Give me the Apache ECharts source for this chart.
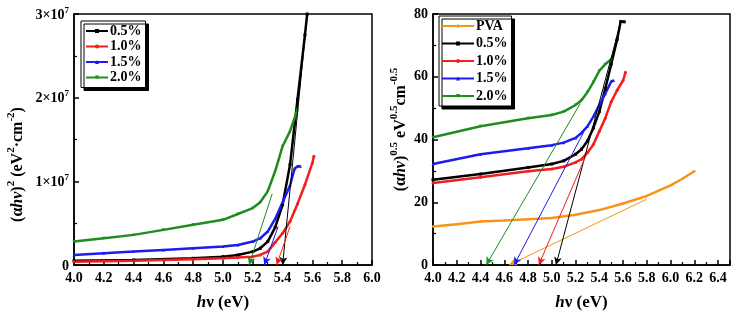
<!DOCTYPE html>
<html>
<head>
<meta charset="utf-8">
<script src="https://cdn.jsdelivr.net/npm/echarts@6/dist/echarts.min.js"></script>
<style>
  html, body { margin: 0; padding: 0; background: #fff; }
  #main { width: 738px; height: 316px; }
</style>
</head>
<body>
<div id="main"></div>
<script>
// ---- left panel: (ahv)^2, values in units of 1e7 ----
const xL05 = [4.0, 4.4, 4.8, 5.0, 5.1, 5.2, 5.25, 5.3, 5.35, 5.4, 5.45, 5.5, 5.55, 5.565]
const yL05 = [0.05, 0.06, 0.08, 0.10, 0.12, 0.16, 0.20, 0.28, 0.45, 0.72, 1.20, 1.98, 2.75, 3.0]
const xL10 = [4.0, 4.4, 4.8, 5.0, 5.1, 5.2, 5.25, 5.3, 5.35, 5.4, 5.45, 5.5, 5.55, 5.6, 5.61]
const yL10 = [0.04, 0.05, 0.07, 0.08, 0.09, 0.10, 0.12, 0.16, 0.27, 0.38, 0.52, 0.73, 0.96, 1.22, 1.30]
const xL15 = [4.0, 4.2, 4.4, 4.6, 4.8, 5.0, 5.1, 5.2, 5.25, 5.3, 5.35, 5.4, 5.45, 5.48, 5.5, 5.52]
const yL15 = [0.12, 0.14, 0.16, 0.18, 0.20, 0.22, 0.24, 0.28, 0.32, 0.40, 0.55, 0.75, 0.95, 1.15, 1.18, 1.18]
const xL20 = [4.0, 4.2, 4.4, 4.6, 4.8, 5.0, 5.1, 5.2, 5.25, 5.3, 5.35, 5.4, 5.45, 5.5]
const yL20 = [0.28, 0.32, 0.36, 0.42, 0.48, 0.54, 0.61, 0.68, 0.75, 0.88, 1.12, 1.42, 1.60, 1.86]
// tangent lines [x0, y0, x1, y1]
const tanL05 = [5.40, 0, 5.56, 2.9]
const tanL10 = [5.36, 0, 5.45, 0.46]
const tanL15 = [5.277, 0, 5.37, 0.46]
const tanL20 = [5.175, 0, 5.33, 0.85]

// ---- right panel: (ahv)^0.5 ----
const xRpva = [4.0, 4.2, 4.4, 4.6, 4.8, 5.0, 5.2, 5.4, 5.6, 5.8, 6.0, 6.1, 6.2]
const yRpva = [12.3, 13.0, 13.9, 14.2, 14.6, 15.0, 16.0, 17.5, 19.6, 22.0, 25.4, 27.5, 29.9]
const xR05 = [4.0, 4.4, 4.8, 5.0, 5.1, 5.2, 5.25, 5.3, 5.35, 5.4, 5.45, 5.5, 5.55, 5.58, 5.61]
const yR05 = [27.2, 29.0, 31.1, 32.2, 33.2, 35.3, 36.9, 39.5, 43.7, 48.9, 56.2, 64.0, 71.9, 77.6, 77.5]
const xR10 = [4.0, 4.4, 4.8, 5.0, 5.1, 5.2, 5.25, 5.3, 5.35, 5.4, 5.45, 5.5, 5.55, 5.6, 5.62]
const yR10 = [26.1, 28.0, 29.9, 30.6, 31.3, 32.7, 33.7, 35.8, 38.4, 42.6, 46.8, 52.0, 55.7, 58.8, 61.4]
const xR15 = [4.0, 4.4, 4.8, 5.0, 5.1, 5.2, 5.25, 5.3, 5.35, 5.4, 5.45, 5.5, 5.52]
const yR15 = [32.2, 35.3, 37.2, 38.2, 39.0, 40.5, 42.1, 44.2, 47.3, 51.0, 54.6, 58.5, 58.8]
const xR20 = [4.0, 4.4, 4.8, 5.0, 5.1, 5.2, 5.25, 5.3, 5.35, 5.4, 5.45, 5.5]
const yR20 = [40.7, 44.2, 46.8, 47.8, 48.9, 51.0, 52.5, 55.1, 58.3, 61.9, 64.0, 65.6]
const tanRpva = [4.64, 0, 5.8, 21]
const tanR05 = [5.035, 0, 5.57, 76]
const tanR10 = [4.89, 0, 5.3, 36]
const tanR15 = [4.683, 0, 5.27, 42.5]
const tanR20 = [4.448, 0, 5.24, 51.5]

const names = ['PVA', '0.5%', '1.0%', '1.5%', '2.0%']
const colors = ['#f7941d', '#000000', '#f01f1f', '#1c1cf0', '#1e8c1e']
const symbols = ['diamond', 'rect', 'circle', 'triangle', 'path://M0,0 L10,0 L5,10 Z']

const FONT = 'Liberation Serif'

function zip(xs, ys) {
  return xs.map((x, i) => [x, ys[i]])
}

function makeSeries(idx, k, xs, ys, tan) {
  return {
    name: names[k],
    type: 'line',
    xAxisIndex: idx,
    yAxisIndex: idx,
    data: zip(xs, ys),
    symbol: symbols[k],
    symbolSize: 3,
    showAllSymbol: true,
    lineStyle: { width: 2.5, color: colors[k] },
    itemStyle: { color: colors[k] },
    markLine: {
      silent: true,
      symbol: ['arrow', 'none'],
      symbolSize: [6, 8],
      label: { show: false },
      lineStyle: { type: 'solid', width: 1, color: colors[k] },
      data: [[{ coord: [tan[0], tan[1]] }, { coord: [tan[2], tan[3]] }]]
    }
  }
}

const tickLabel = { color: '#000', fontFamily: FONT, fontWeight: 'bold', fontSize: 14 }
const axisLine = { show: true, lineStyle: { color: '#000', width: 1.5 } }

function xAxisCfg(idx, max) {
  return {
    type: 'value',
    gridIndex: idx,
    min: 4,
    max: max,
    interval: 0.2,
    axisLine: axisLine,
    axisTick: { inside: true, length: 5, lineStyle: { color: '#000', width: 1.5 } },
    minorTick: { show: true, splitNumber: 2, length: 3, lineStyle: { color: '#000', width: 1.2 } },
    splitLine: { show: false },
    axisLabel: Object.assign({ formatter: v => v.toFixed(1), showMaxLabel: max === 6, margin: 6 }, tickLabel),
    name: '{i|h}{t|ν (eV)}',
    nameLocation: 'middle',
    nameGap: 29,
    nameTextStyle: {
      rich: {
        i: { fontFamily: FONT, fontWeight: 'bold', fontStyle: 'italic', fontSize: 17, color: '#000' },
        t: { fontFamily: FONT, fontWeight: 'bold', fontSize: 17, color: '#000' }
      }
    }
  }
}

const nameRich = {
  t: { fontFamily: FONT, fontWeight: 'bold', fontSize: 16, color: '#000', lineHeight: 20, verticalAlign: 'bottom' },
  i: { fontFamily: FONT, fontWeight: 'bold', fontStyle: 'italic', fontSize: 16, color: '#000', lineHeight: 20, verticalAlign: 'bottom' },
  s: { fontFamily: FONT, fontWeight: 'bold', fontSize: 11, color: '#000', lineHeight: 20, verticalAlign: 'top' }
}

const legendBase = {
  orient: 'vertical',
  itemHeight: 5,
  backgroundColor: '#fff', borderColor: '#000', borderWidth: 1,
  shadowColor: '#000', shadowOffsetX: 3, shadowOffsetY: 3, shadowBlur: 0,
  textStyle: { fontFamily: FONT, fontWeight: 'bold', fontSize: 14, color: '#000', padding: [0, 0, 0, -3] }
}

const chart = echarts.init(document.getElementById('main'))
chart.setOption({
  animation: false,
  backgroundColor: '#fff',
  grid: [
    { left: 74, top: 14, width: 298, height: 255, show: true, borderColor: '#000', borderWidth: 1.5 },
    { left: 433, top: 14, width: 297, height: 255, show: true, borderColor: '#000', borderWidth: 1.5 }
  ],
  legend: [
    Object.assign({}, legendBase, {
      left: 81, top: 21,
      data: ['0.5%', '1.0%', '1.5%', '2.0%'],
      itemWidth: 22, itemGap: 1.5,
      padding: [3, 4, 3, 4]
    }),
    Object.assign({}, legendBase, {
      left: 439, top: 16,
      data: names,
      itemWidth: 32, itemGap: 3.5,
      padding: [3, 4, 3, 2]
    })
  ],
  xAxis: [xAxisCfg(0, 6), xAxisCfg(1, 6.5)],
  yAxis: [
    {
      type: 'value', gridIndex: 0, min: 0, max: 3, interval: 1,
      axisLine: axisLine,
      axisTick: { inside: true, length: 5, lineStyle: { color: '#000', width: 1.5 } },
      minorTick: { show: true, splitNumber: 2, length: 3, lineStyle: { color: '#000', width: 1.2 } },
      splitLine: { show: false },
      axisLabel: {
        margin: 5,
        formatter: v => v === 0 ? '{b|0}' : '{b|' + v + '×10}{s|7}',
        rich: {
          b: { fontFamily: FONT, fontWeight: 'bold', fontSize: 14, color: '#000', lineHeight: 16, verticalAlign: 'bottom' },
          s: { fontFamily: FONT, fontWeight: 'bold', fontSize: 9, color: '#000', lineHeight: 16, verticalAlign: 'top' }
        }
      },
      name: '{t|(α}{i|hν}{t|)}{s|2}{t| (eV}{s|2}{t|·cm}{s|-2}{t|)}',
      nameLocation: 'middle',
      nameRotate: 90,
      nameGap: 48,
      nameTextStyle: { rich: nameRich, padding: [0, 50, 0, 0] }
    },
    {
      type: 'value', gridIndex: 1, min: 0, max: 80, interval: 20,
      axisLine: axisLine,
      axisTick: { inside: true, length: 5, lineStyle: { color: '#000', width: 1.5 } },
      minorTick: { show: true, splitNumber: 2, length: 3, lineStyle: { color: '#000', width: 1.2 } },
      splitLine: { show: false },
      axisLabel: Object.assign({ margin: 5 }, tickLabel),
      name: '{t|(α}{i|hν}{t|)}{s|0.5}{t| eV}{s|0.5}{t|cm}{s|-0.5}',
      nameLocation: 'middle',
      nameRotate: 90,
      nameGap: 24,
      nameTextStyle: { rich: nameRich, padding: [0, 0, 0, 20] }
    }
  ],
  series: [
    makeSeries(0, 1, xL05, yL05, tanL05),
    makeSeries(0, 2, xL10, yL10, tanL10),
    makeSeries(0, 3, xL15, yL15, tanL15),
    makeSeries(0, 4, xL20, yL20, tanL20),
    makeSeries(1, 0, xRpva, yRpva, tanRpva),
    makeSeries(1, 1, xR05, yR05, tanR05),
    makeSeries(1, 2, xR10, yR10, tanR10),
    makeSeries(1, 3, xR15, yR15, tanR15),
    makeSeries(1, 4, xR20, yR20, tanR20)
  ]
})
</script>
</body>
</html>
